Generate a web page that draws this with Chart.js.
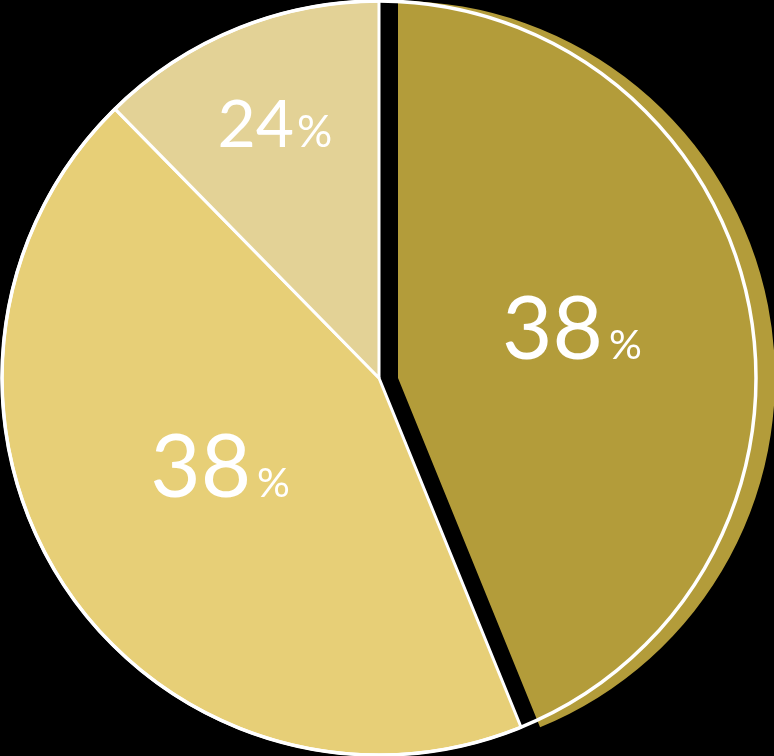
<!DOCTYPE html>
<html lang="en">

<head>
  <meta charset="UTF-8" />
  <meta name="viewport" content="width=device-width, initial-scale=1.0" />
  <title>Share pie</title>
  <script src="https://cdn.jsdelivr.net/npm/chart.js"></script>
  <style>
    html, body { margin: 0; padding: 0; background: #000; }
    #wrap { width: 774px; height: 756px; position: relative; }
  </style>
</head>

<body>
  <div id="wrap"><canvas id="chart"></canvas></div>

  <script>
    const categories = ['A', 'B', 'C'];
    const shares = [43.85, 43.8, 12.35];
    const percentLabels = ['38', '38', '24'];
    const sliceColors = ['#b39c3a', '#e7cf77', '#e3d296'];

    const explodeShift = 19;   // first slice pulled out to the right
    const labelStyle = [       // position: fraction along the slice / fraction of radius; font sizes
      { along: 0.466, dist: 0.481, big: 87, small: 41, gap: 6 },
      { along: 0.530, dist: 0.480, big: 87, small: 41, gap: 6 },
      { along: 0.50, dist: 0.73, big: 66, small: 44, gap: 3 }
    ];

    const explodePlugin = {
      id: 'explode',
      afterDatasetUpdate(chart, args) {
        const arc = chart.getDatasetMeta(args.index).data[0];
        if (arc) arc.x += explodeShift;
      }
    };

    const outlinePlugin = {
      id: 'outline',
      afterDatasetsDraw(chart) {
        const ref = chart.getDatasetMeta(0).data[1];
        const ctx = chart.ctx;
        ctx.save();
        ctx.beginPath();
        ctx.arc(ref.x, ref.y, ref.outerRadius, 0, Math.PI * 2);
        ctx.lineWidth = 3.5;
        ctx.strokeStyle = '#ffffff';
        ctx.stroke();
        ctx.restore();
      }
    };

    const labelPlugin = {
      id: 'pctLabels',
      afterDatasetsDraw(chart) {
        const ctx = chart.ctx;
        ctx.save();
        ctx.fillStyle = '#ffffff';
        ctx.textBaseline = 'alphabetic';
        ctx.textAlign = 'left';
        chart.getDatasetMeta(0).data.forEach((arc, i) => {
          const st = labelStyle[i];
          const a = arc.startAngle + st.along * (arc.endAngle - arc.startAngle);
          const r = st.dist * arc.outerRadius;
          const cx = arc.x + Math.cos(a) * r;
          const cy = arc.y + Math.sin(a) * r;
          const bigFont = `400 ${st.big}px Lato`;
          const smallFont = `400 ${st.small}px Lato`;
          ctx.font = bigFont;
          const m = ctx.measureText(percentLabels[i]);
          const wBig = m.width;
          ctx.font = smallFont;
          const wSmall = ctx.measureText('%').width;
          const x0 = cx - (wBig + st.gap + wSmall) / 2;
          const base = cy + m.actualBoundingBoxAscent / 2;
          ctx.font = bigFont;
          ctx.fillText(percentLabels[i], x0, base);
          ctx.font = smallFont;
          ctx.fillText('%', x0 + wBig + st.gap, base);
        });
        ctx.restore();
      }
    };

    new Chart(document.getElementById('chart'), {
      type: 'pie',
      data: {
        labels: categories,
        datasets: [{
          data: shares,
          backgroundColor: sliceColors,
          borderColor: '#ffffff',
          borderWidth: [0, 3, 3]
        }]
      },
      options: {
        responsive: true,
        maintainAspectRatio: false,
        animation: false,
        events: [],
        radius: 377,
        layout: { padding: { right: 16 } },
        plugins: {
          legend: { display: false },
          tooltip: { enabled: false }
        }
      },
      plugins: [explodePlugin, outlinePlugin, labelPlugin]
    });
  </script>
</body>

</html>
